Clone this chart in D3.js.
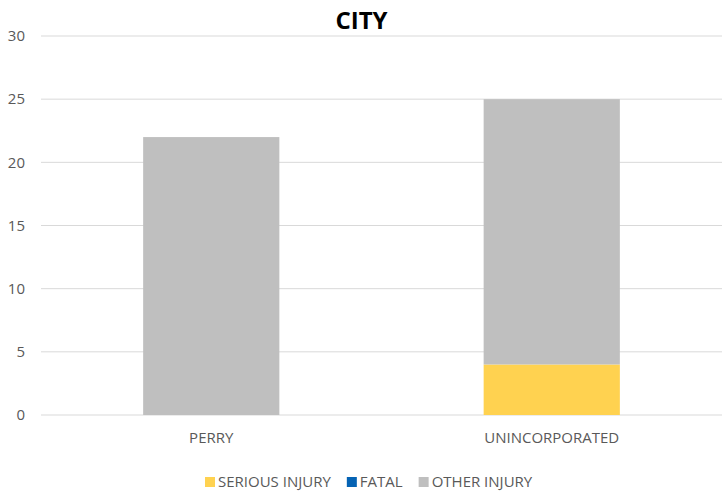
<!DOCTYPE html>
<html>
<head>
<meta charset="utf-8">
<script src="https://cdn.jsdelivr.net/npm/d3@7"></script>
<style>
  body { margin: 0; background: #fff; }
  text { font-family: "Open Sans", "Liberation Sans", sans-serif; fill: #595959; }
</style>
</head>
<body>
<div id="chart"></div>
<script>
// chart data
const categories = ['PERRY', 'UNINCORPORATED'];
const seriesNames = ['SERIOUS INJURY', 'FATAL', 'OTHER INJURY'];
const seriousInjury = [0, 4];
const fatal = [0, 0];
const otherInjury = [22, 21];
const yTicks = [0, 5, 10, 15, 20, 25, 30];

const colors = ['#FFD250', '#0563B4', '#BFBFBF'];

const width = 723, height = 493;
const margin = { top: 36, right: 1, bottom: 78, left: 41 };
const innerW = width - margin.left - margin.right;
const innerH = height - margin.top - margin.bottom;

const svg = d3.select('#chart').append('svg')
  .attr('width', width)
  .attr('height', height);

svg.append('text')
  .attr('x', width / 2)
  .attr('y', 29)
  .attr('text-anchor', 'middle')
  .style('font-size', '24px')
  .style('font-weight', 'bold')
  .style('fill', '#000')
  .text('CITY');

const g = svg.append('g').attr('transform', `translate(${margin.left},${margin.top})`);

const x = d3.scaleBand().domain(categories).range([0, innerW]).paddingInner(0.6).paddingOuter(0.3);
const y = d3.scaleLinear().domain([0, 30]).range([innerH, 0]);

// gridlines
g.append('g')
  .selectAll('line')
  .data(yTicks)
  .join('line')
  .attr('x1', 0).attr('x2', innerW)
  .attr('y1', d => y(d)).attr('y2', d => y(d))
  .attr('stroke', '#D9D9D9')
  .attr('stroke-width', 1);

// y labels
g.append('g')
  .selectAll('text')
  .data(yTicks)
  .join('text')
  .attr('x', -16)
  .attr('y', d => y(d))
  .attr('dy', '0.35em')
  .attr('text-anchor', 'end')
  .style('font-size', '15px')
  .text(d => d);

// stacked bars
const rows = categories.map((c, i) => ({
  category: c,
  'SERIOUS INJURY': seriousInjury[i],
  'FATAL': fatal[i],
  'OTHER INJURY': otherInjury[i]
}));
const stacked = d3.stack().keys(seriesNames)(rows);

g.append('g')
  .selectAll('g')
  .data(stacked)
  .join('g')
  .attr('fill', (d, i) => colors[i])
  .selectAll('rect')
  .data(d => d)
  .join('rect')
  .attr('x', d => x(d.data.category))
  .attr('width', x.bandwidth())
  .attr('y', d => y(d[1]))
  .attr('height', d => y(d[0]) - y(d[1]));

// x labels
g.append('g')
  .selectAll('text')
  .data(categories)
  .join('text')
  .attr('x', d => x(d) + x.bandwidth() / 2)
  .attr('y', innerH + 28)
  .attr('text-anchor', 'middle')
  .style('font-size', '15px')
  .text(d => d);

// legend
const legend = svg.append('g').attr('transform', 'translate(205,482)');
let lx = 0;
seriesNames.forEach((name, i) => {
  const item = legend.append('g').attr('transform', `translate(${lx},0)`);
  item.append('rect')
    .attr('x', 0).attr('y', -5)
    .attr('width', 10).attr('height', 10)
    .attr('fill', colors[i]);
  const t = item.append('text')
    .attr('x', 13)
    .attr('y', 0)
    .attr('dy', '0.35em')
    .style('font-size', '15px')
    .text(name);
  lx += 13 + t.node().getComputedTextLength() + 16;
});
</script>
</body>
</html>
